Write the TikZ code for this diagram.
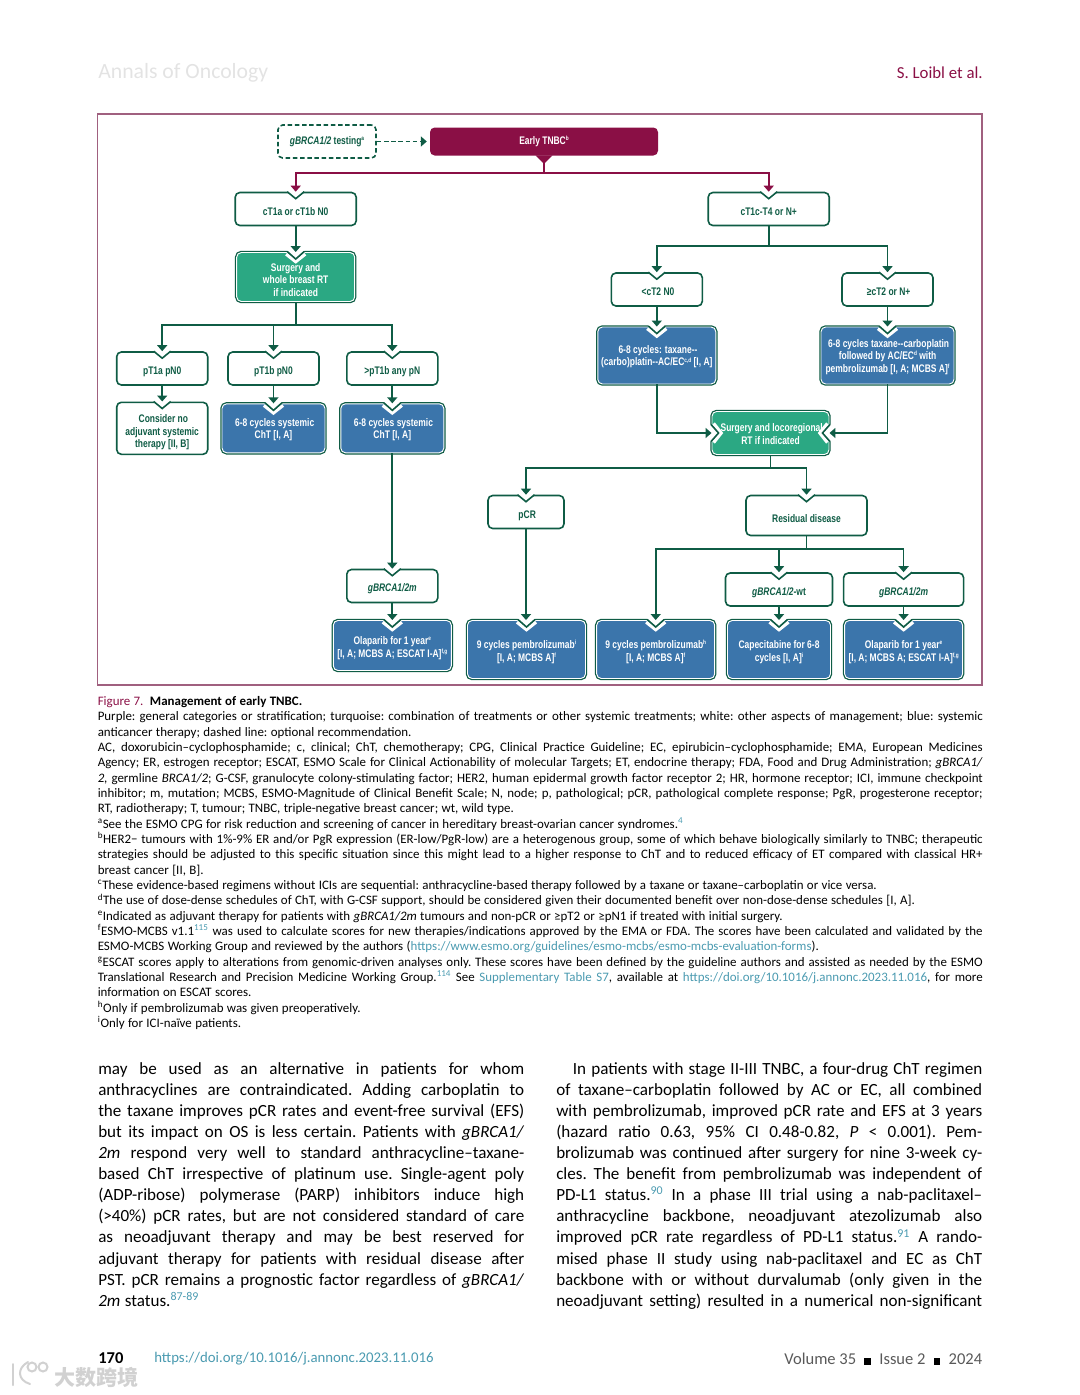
\documentclass[tikz,border=0pt]{standalone}
\usepackage{fontspec}
\setmainfont{Carlito}
\newfontfamily\figfont[FakeStretch=0.77]{Liberation Sans}
\newfontfamily\cjkfont{Noto Sans CJK SC}
\usetikzlibrary{arrows.meta,calc,positioning}
\hbadness=10000
\hfuzz=20pt
\definecolor{tgreen}{HTML}{0F5C45}
\definecolor{crim}{HTML}{8A0F45}
\definecolor{framecol}{HTML}{A0607F}
\definecolor{turq}{HTML}{2BA883}
\definecolor{bluefill}{HTML}{3B75AB}
\definecolor{reflink}{HTML}{4A9AB0}
\newcommand{\figtext}{\figfont\bfseries\fontsize{8.25}{9.45}\selectfont}
\newcommand{\captext}{\fontsize{9.7}{11.51}\selectfont\frenchspacing\lineskiplimit=-5pt}
\newcommand{\bodytext}{\fontsize{12.8}{15.83}\selectfont\frenchspacing\lineskiplimit=-5pt}
\newcommand{\jl}[1]{\hbox to \hsize{\spaceskip=.23em plus 1em minus .12em #1}}
\newcommand{\fl}[1]{\hbox to \hsize{\spaceskip=.26em plus 1em minus .12em #1\hfil}}
\newcommand{\rf}[1]{\textsuperscript{\textcolor{reflink}{#1}}}
\newcommand{\tnote}[1]{\raisebox{2.8pt}{\fontsize{4.6}{5}\selectfont #1}}
\newcommand{\nudge}[1][10]{\rule{0pt}{#1pt}}
\tikzset{sized/.style 2 args={minimum width=#1*0.75pt, minimum height=#2*0.75pt}}
\tikzstyle{basebox}=[inner sep=0, align=center, rounded corners=3.5pt, font=\figtext]
\tikzstyle{wbox}=[basebox, draw=tgreen, line width=1.2pt, fill=white, text=tgreen]
\tikzstyle{dashbox}=[wbox, dash pattern=on 3.4pt off 2pt]
\tikzstyle{cbox}=[basebox, draw=white, line width=0.7pt, text=white, preaction={draw=tgreen, line width=2.6pt}]
\tikzstyle{bluebox}=[cbox, fill=bluefill]
\tikzstyle{turqbox}=[cbox, fill=turq]
\tikzstyle{crimbox}=[basebox, fill=crim, text=white]
\tikzstyle{line}=[draw=tgreen, line width=1.25pt]
\tikzstyle{link}=[line, -{Triangle[length=4.5pt, width=7.5pt]}]
\tikzstyle{crimline}=[line, draw=crim]
\tikzstyle{crimlink}=[link, draw=crim]
\tikzstyle{capnode}=[inner sep=0, anchor=north west, font=\captext]
\tikzstyle{colnode}=[inner sep=0, anchor=north west, font=\bodytext, text width=319.5pt]
\tikzstyle{stampline}=[draw=black!18, line width=1.5pt, line cap=round]
\newcommand{\wnotch}[2][0]{\begin{scope}[shift={(#2)},rotate=#1]
	\fill[white] (-9.5,-1.7) -- (0,7) -- (9.5,-1.7) -- cycle;
	\draw[tgreen, line width=1.2pt] (-8.5,0) -- (0,7) -- (8.5,0);
\end{scope}}
\newcommand{\cnotch}[2][0]{\begin{scope}[shift={(#2)},rotate=#1]
	\draw[white, line width=2.6pt] (-9.5,2) -- (0,9.5) -- (9.5,2);
	\fill[white] (-9.5,-2.4) -- (0,7) -- (9.5,-2.4) -- cycle;
	\draw[tgreen, line width=1.2pt] (-8.5,-0.5) -- (0,7) -- (8.5,-0.5);
\end{scope}}
\begin{document}
\begin{tikzpicture}[x=0.75pt, y=-0.75pt]
\useasboundingbox (0,0) rectangle (1080,1395);
% page head
\node[inner sep=0, anchor=west, text=black!11, font=\fontsize{16.3}{18}\selectfont] (journal) at (98,73) {Annals of Oncology};
\node[inner sep=0, anchor=east, text=crim, font=\fontsize{12.6}{14}\selectfont] (authors) at (983,73) {S. Loibl et al.};
\draw[framecol, line width=1pt] (97.5,114) rectangle (982,685);
% boxes of the left arm
\node[dashbox, sized={98}{33}] (testing) at (327,141.5) {\textit{gBRCA1/2} testing\tnote{a}};
\node[crimbox, sized={228}{28}] (early) at (544,141.5) {Early TNBC\tnote{b}};
\node[wbox, sized={121}{33}] (ct1a) at (295.7,209) {\nudge cT1a or cT1b N0};
\node[turqbox, sized={118}{49}] (surgerya) at (295.7,277) {\nudge Surgery and\\whole breast RT\\if indicated};
\node[wbox, sized={91}{33}] (pt1a) at (162.2,368.5) {\nudge pT1a pN0};
\node[wbox, sized={91}{33}] (pt1b) at (273.5,368.5) {\nudge pT1b pN0};
\node[wbox, sized={91}{33}] (anypn) at (392.3,368.5) {\nudge >pT1b any pN};
\node[wbox, sized={91}{52}] (consider) at (162.2,428.3) {\nudge[12] Consider no\\adjuvant systemic\\therapy [II, B]};
\node[bluebox, sized={103}{49}] (cyclesa) at (273.5,428.3) {\nudge[8] 6-8 cycles systemic\\ChT [I, A]};
\node[bluebox, sized={103}{49}] (cyclesb) at (392.3,428.3) {\nudge[8] 6-8 cycles systemic\\ChT [I, A]};
\node[wbox, sized={91}{33}] (gmleft) at (392.3,586) {\nudge \textit{gBRCA1/2m}};
\node[bluebox, sized={118}{50}] (olapleft) at (392.3,645.5) {\nudge Olaparib for 1 year\tnote{e}\\{}[I, A; MCBS A; ESCAT I-A]\tnote{f,g}};
% boxes of the right arm
\node[wbox, sized={121}{33}] (ct1c) at (768.7,209) {\nudge cT1c-T4 or N+};
\node[wbox, sized={91}{33}] (ltct) at (656.8,289.5) {\nudge[9] <cT2 N0};
\node[wbox, sized={91}{33}] (gect) at (887.5,289.5) {\nudge[9] ≥cT2 or N+};
\node[bluebox, sized={118}{57}] (taxane) at (656.8,355.5) {\nudge[8] 6-8 cycles: taxane--\\(carbo)platin--AC/EC\tnote{c,d} [I, A]};
\node[bluebox, sized={133}{57}] (taxcarbo) at (887.5,355.5) {\nudge[8] 6-8 cycles taxane--carboplatin\\followed by AC/EC\tnote{d} with\\pembrolizumab [I, A; MCBS A]\tnote{f}};
\node[turqbox, sized={117}{43}] (surgeryb) at (770.5,433) {\nudge[8] Surgery and locoregional\\RT if indicated};
\node[wbox, sized={76}{33}] (pcr) at (526,512) {\nudge[11] pCR};
\node[wbox, sized={121}{40}] (residual) at (806.5,515.5) {\nudge Residual disease};
\node[wbox, sized={107}{33}] (wtbox) at (779,589.5) {\nudge \textit{gBRCA1/2}-wt};
\node[wbox, sized={120}{33}] (gmright) at (903.6,589.5) {\nudge \textit{gBRCA1/2m}};
\node[bluebox, sized={118}{58}] (pembroa) at (526.5,649.5) {\nudge 9 cycles pembrolizumab\tnote{i}\\{}[I, A; MCBS A]\tnote{f}};
\node[bluebox, sized={118}{58}] (pembrob) at (655.7,649.5) {\nudge 9 cycles pembrolizumab\tnote{h}\\{}[I, A; MCBS A]\tnote{f}};
\node[bluebox, sized={103}{58}] (cape) at (779,649.5) {\nudge Capecitabine for 6-8\\cycles [I, A]\tnote{i}};
\node[bluebox, sized={118}{58}] (olapright) at (903.6,649.5) {\nudge Olaparib for 1 year\tnote{e}\\{}[I, A; MCBS A; ESCAT I-A]\tnote{f,g}};
% notches
\foreach \b in {ct1a,pt1a,pt1b,anypn,consider,gmleft,ct1c,ltct,gect,pcr,residual,wtbox,gmright} {\wnotch{\b.north}}
\foreach \b in {surgerya,cyclesa,cyclesb,olapleft,taxane,taxcarbo,pembroa,pembrob,cape,olapright} {\cnotch{\b.north}}
\cnotch[90]{surgeryb.west}
\cnotch[-90]{surgeryb.east}
\fill[crim] ($(early.south)+(-8.5,-0.5)$) -- ($(early.south)+(0,8)$) -- ($(early.south)+(8.5,-0.5)$) -- cycle;
% forks
\coordinate (forkroot) at (544,173);
\coordinate (forka) at (295.7,325);
\coordinate (forkb) at (768.7,246);
\coordinate (forkc) at (770.5,468.3);
\coordinate (forkd) at (806.5,549);
% connectors
\draw[link, dash pattern=on 3.4pt off 2pt, shorten >=2.2pt] (testing) -- (early);
\draw[crimline] (early.south) -- (forkroot);
\draw[crimlink] (forkroot) -| (ct1a.north);
\draw[crimlink] (forkroot) -| (ct1c.north);
\draw[link] (ct1a) -- (surgerya.north);
\draw[line] (surgerya) -- (forka);
\foreach \b in {pt1a,pt1b,anypn} {\draw[link] (forka) -| (\b.north);}
\draw[link] (pt1a) -- (consider.north);
\draw[link] (pt1b) -- (cyclesa.north);
\draw[link] (anypn) -- (cyclesb.north);
\draw[link] (cyclesb) -- (gmleft.north);
\draw[link] (gmleft) -- (olapleft.north);
\draw[line] (ct1c) -- (forkb);
\draw[link] (forkb) -| (ltct.north);
\draw[link] (forkb) -| (gect.north);
\draw[link] (ltct) -- (taxane.north);
\draw[link] (gect) -- (taxcarbo.north);
\draw[link] (taxane) |- (surgeryb.west);
\draw[link] (taxcarbo) |- (surgeryb.east);
\draw[line] (surgeryb) -- (forkc);
\draw[link] (forkc) -| (pcr.north);
\draw[link] (forkc) -| (residual.north);
\draw[link] (pcr) -- (pcr |- pembroa.north);
\draw[line] (residual) -- (forkd);
\foreach \b in {pembrob,wtbox,gmright} {\draw[link] (forkd) -| (\b.north);}
\draw[link] (wtbox) -- (cape.north);
\draw[link] (gmright) -- (olapright.north);
% legend under the figure
\node[capnode, text width=663.75pt] (legend) at (97.5,696) {%
\fl{\textcolor{crim}{Figure 7.}\enspace\textbf{Management of early TNBC.}}
\jl{Purple: general categories or stratification; turquoise: combination of treatments or other systemic treatments; white: other aspects of management; blue: systemic}
\fl{anticancer therapy; dashed line: optional recommendation.}
\jl{AC, doxorubicin--cyclophosphamide; c, clinical; ChT, chemotherapy; CPG, Clinical Practice Guideline; EC, epirubicin--cyclophosphamide; EMA, European Medicines}
\jl{Agency; ER, estrogen receptor; ESCAT, ESMO Scale for Clinical Actionability of molecular Targets; ET, endocrine therapy; FDA, Food and Drug Administration; \textit{gBRCA1/}}
\jl{\textit{2,} germline \textit{BRCA1/2}; G-CSF, granulocyte colony-stimulating factor; HER2, human epidermal growth factor receptor 2; HR, hormone receptor; ICI, immune checkpoint}
\jl{inhibitor; m, mutation; MCBS, ESMO-Magnitude of Clinical Benefit Scale; N, node; p, pathological; pCR, pathological complete response; PgR, progesterone receptor;}
\fl{RT, radiotherapy; T, tumour; TNBC, triple-negative breast cancer; wt, wild type.}
\fl{\textsuperscript{a}See the ESMO CPG for risk reduction and screening of cancer in hereditary breast-ovarian cancer syndromes.\rf{4}}
\jl{\textsuperscript{b}HER2− tumours with 1\%-9\% ER and/or PgR expression (ER-low/PgR-low) are a heterogenous group, some of which behave biologically similarly to TNBC; therapeutic}
\jl{strategies should be adjusted to this specific situation since this might lead to a higher response to ChT and to reduced efficacy of ET compared with classical HR+}
\fl{breast cancer [II, B].}
\fl{\textsuperscript{c}These evidence-based regimens without ICIs are sequential: anthracycline-based therapy followed by a taxane or taxane--carboplatin or vice versa.}
\fl{\textsuperscript{d}The use of dose-dense schedules of ChT, with G-CSF support, should be considered given their documented benefit over non-dose-dense schedules [I, A].}
\fl{\textsuperscript{e}Indicated as adjuvant therapy for patients with \textit{gBRCA1/2m} tumours and non-pCR or ≥pT2 or ≥pN1 if treated with initial surgery.}
\jl{\textsuperscript{f}ESMO-MCBS v1.1\rf{115} was used to calculate scores for new therapies/indications approved by the EMA or FDA. The scores have been calculated and validated by the}
\fl{ESMO-MCBS Working Group and reviewed by the authors (\textcolor{reflink}{https://www.esmo.org/guidelines/esmo-mcbs/esmo-mcbs-evaluation-forms}).}
\jl{\textsuperscript{g}ESCAT scores apply to alterations from genomic-driven analyses only. These scores have been defined by the guideline authors and assisted as needed by the ESMO}
\jl{Translational Research and Precision Medicine Working Group.\rf{114} See \textcolor{reflink}{Supplementary Table S7}, available at \textcolor{reflink}{https://doi.org/10.1016/j.annonc.2023.11.016}, for more}
\fl{information on ESCAT scores.}
\fl{\textsuperscript{h}Only if pembrolizumab was given preoperatively.}
\fl{\textsuperscript{i}Only for ICI-naïve patients.}
};
% running text, two columns
\node[colnode] (colleft) at (98,1062) {%
\jl{may be used as an alternative in patients for whom}
\jl{anthracyclines are contraindicated. Adding carboplatin to}
\jl{the taxane improves pCR rates and event-free survival (EFS)}
\jl{but its impact on OS is less certain. Patients with \textit{gBRCA1/}}
\jl{\textit{2m} respond very well to standard anthracycline--taxane-}
\jl{based ChT irrespective of platinum use. Single-agent poly}
\jl{(ADP-ribose) polymerase (PARP) inhibitors induce high}
\jl{(>40\%) pCR rates, but are not considered standard of care}
\jl{as neoadjuvant therapy and may be best reserved for}
\jl{adjuvant therapy for patients with residual disease after}
\jl{PST. pCR remains a prognostic factor regardless of \textit{gBRCA1/}}
\fl{\textit{2m} status.\rf{87-89}}
};
\node[colnode] (colright) at (556,1062) {%
\jl{\hskip 12.5pt In patients with stage II-III TNBC, a four-drug ChT regimen}
\jl{of taxane--carboplatin followed by AC or EC, all combined}
\jl{with pembrolizumab, improved pCR rate and EFS at 3 years}
\jl{(hazard ratio 0.63, 95\% CI 0.48-0.82, \textit{P} < 0.001). Pem-}
\jl{brolizumab was continued after surgery for nine 3-week cy-}
\jl{cles. The benefit from pembrolizumab was independent of}
\jl{PD-L1 status.\rf{90} In a phase III trial using a nab-paclitaxel--}
\jl{anthracycline backbone, neoadjuvant atezolizumab also}
\jl{improved pCR rate regardless of PD-L1 status.\rf{91} A rando-}
\jl{mised phase II study using nab-paclitaxel and EC as ChT}
\jl{backbone with or without durvalumab (only given in the}
\jl{neoadjuvant setting) resulted in a numerical non-significant}
};
% page foot and the stamp over it
\node[inner sep=0, anchor=west, font=\bfseries\fontsize{12.4}{14}\selectfont] (pageno) at (98,1358) {170};
\node[inner sep=0, anchor=west, text=reflink, font=\fontsize{11.1}{14}\selectfont] (doi) at (154,1359) {https://doi.org/10.1016/j.annonc.2023.11.016};
\node[inner sep=0, anchor=east, text=black!65, font=\fontsize{12.4}{14}\selectfont] (issue) at (982.5,1359) {Volume 35\enspace\textcolor{black}{\rule{5pt}{5pt}}\enspace Issue 2\enspace\textcolor{black}{\rule{5pt}{5pt}}\enspace 2024};
\node[inner sep=0, anchor=west, text=black!18, font=\cjkfont\bfseries\fontsize{15.8}{18}\selectfont] (stamp) at (54,1377) {大数跨境};
\draw[stampline] (13,1364) -- (13,1385);
\draw[stampline] (28,1362) .. controls (17,1368) and (17,1380) .. (30,1384);
\draw[stampline] (32,1367) circle (4.5);
\draw[stampline] (43,1367) circle (4.5);
\end{tikzpicture}
\end{document}
